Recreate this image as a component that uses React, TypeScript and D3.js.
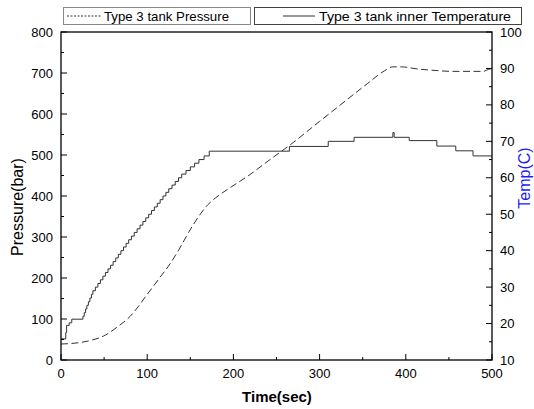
import React from "react";
import * as d3 from "d3";

const pressureTime = [0, 20, 35, 49, 65, 80, 100, 115, 125, 137, 148, 161, 170, 179, 196, 217, 240, 266, 300, 330, 356, 375, 385, 395, 413, 436, 451, 490, 496, 500];
const pressureValue = [39, 42, 48, 58, 80, 106, 160, 202, 230, 270, 311, 354, 378, 395, 420, 449, 485, 525, 582, 632, 675, 705, 715, 715, 710, 706, 704, 704, 709, 710];

const tempTime = [0, 5.5, 6.5, 9.5, 12.5, 25.5, 27, 28.5, 30, 31.8, 33.5, 35.3, 37, 39.9, 42.8, 45.7, 48.6, 51.5, 54.5, 57.5, 60.5, 63.5, 66.5, 69.5, 72.5, 75.5, 78.5, 81.7, 85, 88.3, 91.7, 95, 98.3, 101.7, 105, 108.3, 111.7, 115, 118.3, 121.7, 125, 128.8, 132.5, 136.3, 140, 145, 150, 155, 160, 166, 172, 265, 310, 340, 385, 386.5, 404, 436, 458, 478, 500];
const tempValue = [15.8, 17.5, 19.5, 20.2, 21.2, 22, 23, 24, 25, 26, 27, 28, 29, 30, 31, 32, 33, 34, 35, 36, 37, 38, 39, 40, 41, 42, 43, 44, 45, 46, 47, 48, 49, 50, 51, 52, 53, 54, 55, 56, 57, 58, 59, 60, 61, 62, 63, 64, 65, 66, 67.3, 68.6, 70, 71.1, 72.4, 71.1, 70.2, 68.7, 67.4, 66, 66];

const xTicks = [0, 100, 200, 300, 400, 500];
const xMinor = [50, 150, 250, 350, 450];
const pTicks = [0, 100, 200, 300, 400, 500, 600, 700, 800];
const pMinor = [50, 150, 250, 350, 450, 550, 650, 750];
const tTicks = [10, 20, 30, 40, 50, 60, 70, 80, 90, 100];
const tMinor = [15, 25, 35, 45, 55, 65, 75, 85, 95];

const legendLabels = ["Type 3 tank Pressure", "Type 3 tank inner Temperature"];

export default function App() {
  const L = 61, R = 492, T = 32, B = 360;
  const x = d3.scaleLinear().domain([0, 500]).range([L, R]);
  const yP = d3.scaleLinear().domain([0, 800]).range([B, T]);
  const yT = d3.scaleLinear().domain([10, 100]).range([B, T]);
  const font = "Arial, 'Liberation Sans', sans-serif";

  const pLine = d3.line<number>()
    .x((_, i) => x(pressureTime[i]))
    .y((d) => yP(d))
    .curve(d3.curveMonotoneX)(pressureValue) as string;
  const tLine = d3.line<number>()
    .x((_, i) => x(tempTime[i]))
    .y((d) => yT(d))
    .curve(d3.curveStepAfter)(tempValue) as string;

  return (
    <svg width={534} height={409} style={{ position: "absolute", left: 0, top: 0 }} fontFamily={font}>
      <rect x={0} y={0} width={534} height={409} fill="#fff" />
      {/* legend */}
      <rect x={63.5} y={7.5} width={187} height={17} fill="#fff" stroke="#888" />
      <line x1={67} x2={101} y1={16} y2={16} stroke="#333" strokeDasharray="2,1.5" />
      <text x={104} y={21} fontSize={13.5} fill="#000" textLength={125} lengthAdjust="spacingAndGlyphs">{legendLabels[0]}</text>
      <rect x={254.5} y={7.5} width={267} height={17} fill="#fff" stroke="#444" />
      <line x1={283} x2={315} y1={16} y2={16} stroke="#333" />
      <text x={319} y={21} fontSize={13.5} fill="#000" textLength={192} lengthAdjust="spacingAndGlyphs">{legendLabels[1]}</text>

      {/* data */}
      <path d={tLine} fill="none" stroke="#333" strokeWidth={1} />
      <path d={pLine} fill="none" stroke="#333" strokeWidth={1} strokeDasharray="7,3.5" />

      {/* frame */}
      <rect x={L} y={T} width={R - L} height={B - T} fill="none" stroke="#000" strokeWidth={1.3} />

      {/* x ticks */}
      {xTicks.map((v) => (
        <g key={"x" + v}>
          <line x1={x(v)} x2={x(v)} y1={B} y2={B - 6} stroke="#000" />
          <text x={x(v)} y={378} fontSize={13} textAnchor="middle">{v}</text>
        </g>
      ))}
      {xMinor.map((v) => (
        <line key={"xm" + v} x1={x(v)} x2={x(v)} y1={B} y2={B - 3} stroke="#000" />
      ))}
      {/* left ticks */}
      {pTicks.map((v) => (
        <g key={"p" + v}>
          <line x1={L} x2={L + 6} y1={yP(v)} y2={yP(v)} stroke="#000" />
          <text x={53} y={yP(v) + 4.5} fontSize={13} textAnchor="end">{v}</text>
        </g>
      ))}
      {pMinor.map((v) => (
        <line key={"pm" + v} x1={L} x2={L + 3} y1={yP(v)} y2={yP(v)} stroke="#000" />
      ))}
      {/* right ticks */}
      {tTicks.map((v) => (
        <g key={"t" + v}>
          <line x1={R} x2={R - 6} y1={yT(v)} y2={yT(v)} stroke="#000" />
          <text x={500} y={yT(v) + 4.5} fontSize={13} textAnchor="start">{v}</text>
        </g>
      ))}
      {tMinor.map((v) => (
        <line key={"tm" + v} x1={R} x2={R - 3} y1={yT(v)} y2={yT(v)} stroke="#000" />
      ))}

      {/* axis titles */}
      <text x={277} y={402} fontSize={15} fontWeight="bold" textAnchor="middle">Time(sec)</text>
      <text transform="translate(23,207) rotate(-90)" fontSize={16} textAnchor="middle">Pressure(bar)</text>
      <text transform="translate(530,178) rotate(-90)" fontSize={16} textAnchor="middle" fill="#1a1aff">Temp(C)</text>
    </svg>
  );
}
